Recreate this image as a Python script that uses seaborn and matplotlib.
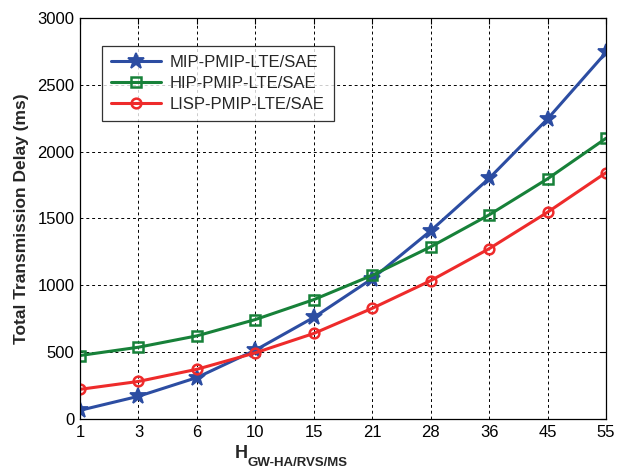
import numpy as np
import pandas as pd
import matplotlib
matplotlib.use("Agg")
import matplotlib.pyplot as plt
import seaborn as sns

hops = ["1", "3", "6", "10", "15", "21", "28", "36", "45", "55"]
mip = [65, 170, 310, 515, 760, 1050, 1408, 1800, 2245, 2742]
hip = [475, 537, 622, 744, 893, 1075, 1288, 1527, 1797, 2100]
lisp = [222, 281, 372, 495, 640, 828, 1035, 1274, 1547, 1843]
series_names = ["MIP-PMIP-LTE/SAE", "HIP-PMIP-LTE/SAE", "LISP-PMIP-LTE/SAE"]

sns.set_theme(style="white")
plt.rcParams["font.family"] = ["Liberation Sans", "DejaVu Sans"]

rows = []
for name, vals in zip(series_names, [mip, hip, lisp]):
    for i, (h, v) in enumerate(zip(hops, vals)):
        rows.append({"pos": i, "hop": h, "delay": v, "scheme": name})
df = pd.DataFrame(rows)

colors = {"MIP-PMIP-LTE/SAE": "#2C4DA2",
          "HIP-PMIP-LTE/SAE": "#178139",
          "LISP-PMIP-LTE/SAE": "#EE2B2B"}
markers = {"MIP-PMIP-LTE/SAE": "*",
           "HIP-PMIP-LTE/SAE": "s",
           "LISP-PMIP-LTE/SAE": "o"}

fig = plt.figure(figsize=(6.17, 4.69), dpi=100)
ax = fig.add_axes([80/617, 1-419/469, 526/617, 401/469])

for name in series_names:
    sub = df[df["scheme"] == name]
    mk = markers[name]
    kw = dict(markersize=12, markeredgewidth=1.3) if mk == "*" else \
         dict(markersize=7, markeredgewidth=1.8, markerfacecolor="none")
    sns.lineplot(data=sub, x="pos", y="delay", ax=ax, color=colors[name],
                 marker=mk, linewidth=2.2, label=name,
                 markeredgecolor=colors[name], **kw)

ax.set_xlim(0, len(hops) - 1)
ax.set_ylim(0, 3000)
ax.set_xticks(range(len(hops)))
ax.set_xticklabels(hops)
ax.set_yticks(np.arange(0, 3001, 500))
ax.tick_params(axis="both", direction="in", top=True, right=True,
               labelsize=12, length=4, width=0.8, colors="black", pad=4)
for sp in ax.spines.values():
    sp.set_color("black")
    sp.set_linewidth(0.9)
ax.grid(True, color="black", linestyle=(0, (3, 3)), linewidth=0.7)
ax.set_axisbelow(True)

ax.set_xlabel("")
ax.set_ylabel("Total Transmission Delay (ms)", fontsize=12.5, fontweight="bold",
              labelpad=6)

fig.text(235/617, 1-458/469, "H", fontsize=13, fontweight="bold",
         ha="left", va="baseline")
fig.text(247/617, 1-466/469, "GW-HA/RVS/MS", fontsize=9.5, fontweight="bold",
         ha="left", va="baseline")

leg = ax.legend(loc="upper left", bbox_to_anchor=(0.042, 0.93), fontsize=12,
                frameon=True, fancybox=False, edgecolor="black",
                borderpad=0.55, labelspacing=0.35, handlelength=3.0,
                handletextpad=0.5, borderaxespad=0)
leg.get_frame().set_linewidth(0.9)

fig.savefig("out.png", dpi=100)
